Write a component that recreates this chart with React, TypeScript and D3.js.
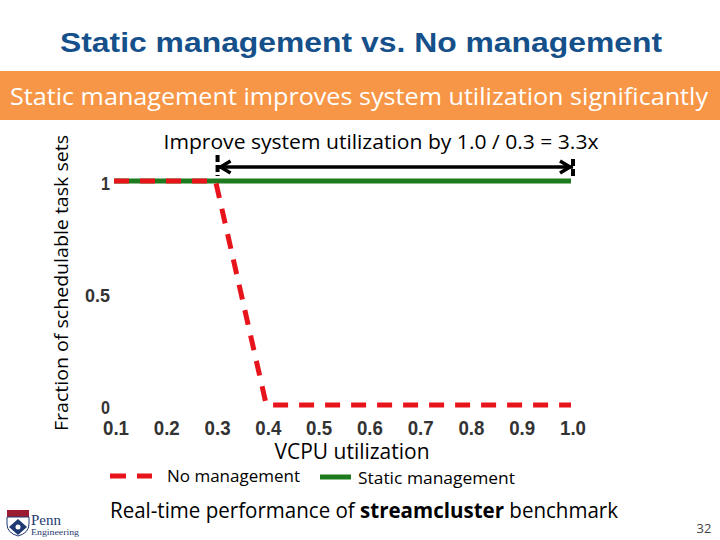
import React from "react";
import * as d3 from "d3";

const utilization = [0.1, 0.2, 0.3, 0.4, 0.5, 0.6, 0.7, 0.8, 0.9, 1.0];
const noManagement = [1, 1, 1, 0, 0, 0, 0, 0, 0, 0];
const staticManagement = [1, 1, 1, 1, 1, 1, 1, 1, 1, 1];
const xTickLabels = ["0.1", "0.2", "0.3", "0.4", "0.5", "0.6", "0.7", "0.8", "0.9", "1.0"];
const yTicks = [0, 0.5, 1];
const yTickLabels = ["0", "0.5", "1"];
const improveFrom = 0.3;
const improveTo = 1.0;

const RED = "#E8141B";
const GREEN = "#1E7A1E";
const CAL = "'Open Sans', 'Noto Sans', sans-serif";
const ARIAL = "'Liberation Sans', Arial, sans-serif";

export default function App() {
  const x = d3.scaleLinear().domain([0.1, 1.0]).range([114, 571]);
  const y = d3.scaleLinear().domain([0, 1]).range([405, 181]);

  const line = d3
    .line<number>()
    .x((_, i) => x(utilization[i]))
    .y((d) => y(d));

  const arrowY = y(1) - 14;
  const ax0 = x(improveFrom) + 2;
  const ax1 = x(improveTo) + 2;

  return (
    <svg
      width={720}
      height={540}
      style={{ position: "absolute", left: 0, top: 0, background: "#fff" }}
    >
      <rect x={0} y={0} width={720} height={540} fill="#fff" />
      {/* Title */}
      <text
        x={361}
        y={52}
        textAnchor="middle"
        fontFamily={ARIAL}
        fontWeight="bold"
        fontSize={28}
        fill="#15508A"
        textLength={602}
        lengthAdjust="spacingAndGlyphs"
      >
        Static management vs. No management
      </text>
      {/* Orange band */}
      <rect x={0} y={71} width={720} height={49} fill="#F79646" />
      <text
        x={359}
        y={105}
        textAnchor="middle"
        fontFamily={CAL}
        fontSize={24}
        fill="#fff"
        textLength={698}
        lengthAdjust="spacingAndGlyphs"
      >
        Static management improves system utilization significantly
      </text>

      {/* Annotation */}
      <text
        x={381}
        y={149}
        textAnchor="middle"
        fontFamily={CAL}
        fontSize={20}
        fill="#000"
        textLength={435}
        lengthAdjust="spacingAndGlyphs"
      >
        Improve system utilization by 1.0 / 0.3 = 3.3x
      </text>

      {/* Y axis label */}
      <text
        transform="translate(68,283) rotate(-90)"
        textAnchor="middle"
        fontFamily={CAL}
        fontSize={18}
        fill="#000"
        textLength={296}
        lengthAdjust="spacingAndGlyphs"
      >
        Fraction of schedulable task sets
      </text>

      {/* Y ticks */}
      {yTicks.map((t, i) => (
        <text
          key={"y" + i}
          x={110}
          y={y(t) + 9}
          textAnchor="end"
          fontFamily={ARIAL}
          fontWeight="bold"
          fontSize={19}
          fill="#333"
          textLength={yTickLabels[i].length > 1 ? 25 : 9}
          lengthAdjust="spacingAndGlyphs"
        >
          {yTickLabels[i]}
        </text>
      ))}

      {/* X ticks */}
      {utilization.map((u, i) => (
        <text
          key={"x" + i}
          x={x(u) + 2}
          y={435}
          textAnchor="middle"
          fontFamily={ARIAL}
          fontWeight="bold"
          fontSize={21}
          fill="#333"
          textLength={26}
          lengthAdjust="spacingAndGlyphs"
        >
          {xTickLabels[i]}
        </text>
      ))}

      {/* X axis title */}
      <text
        x={352}
        y={459}
        textAnchor="middle"
        fontFamily={CAL}
        fontSize={21}
        fill="#000"
        textLength={155}
        lengthAdjust="spacingAndGlyphs"
      >
        VCPU utilization
      </text>

      {/* Series */}
      <path
        d={line(staticManagement) || ""}
        fill="none"
        stroke={GREEN}
        strokeWidth={5}
      />
      <path
        d={line(noManagement) || ""}
        fill="none"
        stroke={RED}
        strokeWidth={5}
        strokeDasharray="15 11"
        strokeLinejoin="round"
      />

      {/* Improvement arrow */}
      <line x1={ax0} y1={arrowY} x2={ax1} y2={arrowY} stroke="#000" strokeWidth={3.5} />
      <polyline
        points={`${ax0 + 13},${arrowY - 6} ${ax0 + 3},${arrowY} ${ax0 + 13},${arrowY + 6}`}
        fill="none"
        stroke="#000"
        strokeWidth={3.5}
      />
      <polyline
        points={`${ax1 - 13},${arrowY - 6} ${ax1 - 3},${arrowY} ${ax1 - 13},${arrowY + 6}`}
        fill="none"
        stroke="#000"
        strokeWidth={3.5}
      />
      <line x1={ax0} y1={arrowY - 12} x2={ax0} y2={arrowY + 9} stroke="#000" strokeWidth={4} strokeDasharray="7 3" />
      <line x1={ax1} y1={arrowY - 8} x2={ax1} y2={arrowY + 11} stroke="#000" strokeWidth={4} strokeDasharray="7 3" />

      {/* Legend */}
      <line x1={110} y1={476} x2={152} y2={476} stroke={RED} strokeWidth={5} strokeDasharray="16 11" />
      <text x={167} y={482} fontFamily={CAL} fontSize={17} fill="#000" textLength={133} lengthAdjust="spacingAndGlyphs">
        No management
      </text>
      <line x1={320} y1={477} x2={351} y2={477} stroke={GREEN} strokeWidth={5} />
      <text x={358} y={484} fontFamily={CAL} fontSize={17} fill="#000" textLength={157} lengthAdjust="spacingAndGlyphs">
        Static management
      </text>

      {/* Footer */}
      <text x={110} y={518} fontFamily={CAL} fontSize={21} fill="#000" textLength={508} lengthAdjust="spacingAndGlyphs">
        Real-time performance of <tspan fontWeight="bold">streamcluster</tspan> benchmark
      </text>
      <text x={704} y={533} textAnchor="middle" fontFamily={CAL} fontSize={13} fill="#444">
        32
      </text>

      {/* Penn Engineering logo */}
      <g>
        <rect x={7} y={510} width={22} height={7} fill="#9B1B30" />
        <path d="M7,517 L29,517 L29,524 Q29,533 18,536 Q7,533 7,524 Z" fill="#fff" stroke="#1F3A73" strokeWidth={1} />
        <path d="M18,519 L27,527 L18,535 L9,527 Z" fill="#1F3A73" />
        <circle cx={18} cy={527} r={2.5} fill="#fff" />
        <text x={31} y={525} fontFamily="'Liberation Serif', 'DejaVu Serif', serif" fontSize={15} fill="#1F3A73">
          Penn
        </text>
        <text x={31} y={535} fontFamily="'Liberation Serif', 'DejaVu Serif', serif" fontSize={9} fill="#1F3A73" textLength={48} lengthAdjust="spacingAndGlyphs">
          Engineering
        </text>
      </g>
    </svg>
  );
}
